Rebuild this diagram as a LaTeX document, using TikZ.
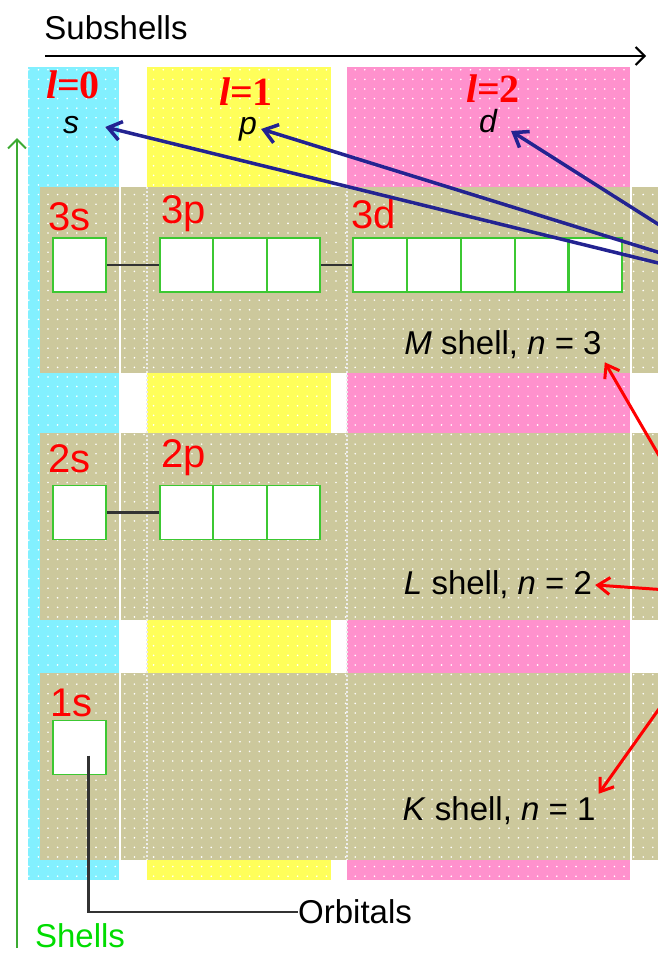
\documentclass[tikz,border=0pt]{standalone}
\usepackage{fontspec}
\setmainfont{Liberation Sans}
\newfontfamily\timesfont{Liberation Serif}
\usetikzlibrary{arrows.meta,positioning,calc,patterns.meta}
\definecolor{sCyan}{RGB}{130,240,255}
\definecolor{pYellow}{RGB}{255,255,90}
\definecolor{dPink}{RGB}{255,145,205}
\definecolor{shellTan}{RGB}{204,200,156}
\definecolor{orbGreen}{RGB}{60,200,50}
\definecolor{arrowNavy}{RGB}{35,35,145}
\definecolor{labelRed}{RGB}{255,0,0}
\definecolor{shellGreen}{RGB}{0,220,0}
\definecolor{axisGreen}{RGB}{60,170,50}
\definecolor{inkGray}{RGB}{50,50,50}
\tikzset{
  dotted fill/.style={postaction={pattern={Dots[distance=9.6pt,radius=0.9pt]},pattern color=white}},
  band/.style={fill=shellTan,dotted fill},
  column edge/.style={draw=white,line width=1.5pt},
  faint edge/.style={draw=white!85!gray,line width=1.2pt,dash pattern=on 2pt off 2pt},
  orbital/.style={draw=orbGreen,fill=white,line width=1.8pt,minimum width=53.5pt,minimum height=54pt,inner sep=0pt},
  orbital label/.style={text=labelRed,font=\fontsize{40}{40}\selectfont,anchor=base west,inner sep=0pt},
  qnum/.style={text=labelRed,font=\timesfont\bfseries\fontsize{40}{40}\selectfont,inner sep=0pt},
  subname/.style={font=\fontsize{32}{32}\selectfont\itshape,inner sep=0pt},
  shell name/.style={font=\fontsize{33}{33}\selectfont,inner sep=3pt},
  caption/.style={font=\fontsize{33}{33}\selectfont,inner sep=0pt},
  link/.style={draw=inkGray,line width=2.5pt},
  axis arrow/.style={-{Straight Barb[length=9pt,width=18pt]},line width=2pt},
  sub arrow/.style={-{Straight Barb[length=13pt,width=19pt]},draw=arrowNavy,line width=3.5pt},
  shell arrow/.style={-{Straight Barb[length=12pt,width=17pt]},draw=labelRed,line width=3pt}
}
\begin{document}
\begin{tikzpicture}[x=1pt,y=-1pt]
  \useasboundingbox (0,0) rectangle (658,953);
  \clip (0,0) rectangle (658,953);
  \fill[sCyan,dotted fill] (28,67) rectangle (120,880);
  \fill[pYellow,dotted fill] (147,67) rectangle (331,880);
  \fill[dPink,dotted fill] (347,67) rectangle (631,880);
  \fill[band] (40,187) rectangle (658,373);
  \fill[band] (40,433) rectangle (658,620);
  \fill[band] (40,673) rectangle (658,860);
  \draw[column edge] (120,67) -- (120,880);
  \draw[column edge] (631,67) -- (631,880);
  \draw[faint edge] (147,187) -- (147,860);
  \draw[faint edge] (347,187) -- (347,860);

  \node[caption] (subshells) at (116,28) {Subshells};
  \coordinate (subL) at (45,56);
  \coordinate (subR) at (646,56);
  \draw[axis arrow,draw=black] (subL) -- (subR);
  \coordinate (shellB) at (17,948);
  \coordinate (shellT) at (17,138);
  \draw[axis arrow,draw=axisGreen] (shellB) -- (shellT);
  \node[caption,text=shellGreen] (shells) at (80,936) {Shells};

  \node[qnum] (l0) at (73,85) {\textit{l}=0};
  \node[qnum] (l1) at (246,92) {\textit{l}=1};
  \node[qnum] (l2) at (493,89) {\textit{l}=2};
  \node[subname] (ssub) at (71,125) {s};
  \node[subname] (psub) at (248,129) {p};
  \node[subname] (dsub) at (488,121) {d};

  \node[orbital] (s3) at (79.5,265) {};
  \node[orbital] (p3a) at (186.5,265) {};
  \node[orbital] (p3b) at (240,265) {};
  \node[orbital] (p3c) at (293.5,265) {};
  \node[orbital] (d3a) at (380,265) {};
  \node[orbital] (d3b) at (434,265) {};
  \node[orbital] (d3c) at (488,265) {};
  \node[orbital] (d3d) at (541.5,265) {};
  \node[orbital] (d3e) at (595.5,265) {};
  \node[orbital] (s2) at (79.5,512.5) {};
  \node[orbital] (p2a) at (186.5,512.5) {};
  \node[orbital] (p2b) at (240,512.5) {};
  \node[orbital] (p2c) at (293.5,512.5) {};
  \node[orbital] (s1) at (79.5,747.5) {};
  \draw[link] (s3) -- (p3a);
  \draw[link] (p3c) -- (d3a);
  \draw[link] (s2) -- (p2a);

  \node[orbital label] (n3s) at (48,230) {3s};
  \node[orbital label] (n3p) at (161,223) {3p};
  \node[orbital label] (n3d) at (351,228) {3d};
  \node[orbital label] (n2s) at (48,472) {2s};
  \node[orbital label] (n2p) at (161,467) {2p};
  \node[orbital label] (n1s) at (50,716) {1s};

  \node[caption,anchor=west] (orb) at (298,912) {Orbitals};
  \draw[link] ($(s1.center)+(9,8)$) |- (orb.west);

  \node[shell name] (mshell) at (503,345) {\textit{M} shell, \textit{n} = 3};
  \node[shell name] (lshell) at (498,585) {\textit{L} shell, \textit{n} = 2};
  \node[shell name] (kshell) at (499,811) {\textit{K} shell, \textit{n} = 1};

  \coordinate (subA) at (825,304);
  \coordinate (subB) at (825,330);
  \draw[sub arrow] (subA) -- ($(ssub.east)+(26,2)$);
  \draw[sub arrow] (subA) -- ($(psub.east)+(4,0)$);
  \draw[sub arrow] (subB) -- ($(dsub.east)+(14,10)$);
  \coordinate (shellsrc) at (740,595);
  \draw[shell arrow] (shellsrc) -- (mshell.south east);
  \draw[shell arrow] (shellsrc) -- (lshell.east);
  \draw[shell arrow] (shellsrc) -- (kshell.north east);
\end{tikzpicture}
\end{document}
